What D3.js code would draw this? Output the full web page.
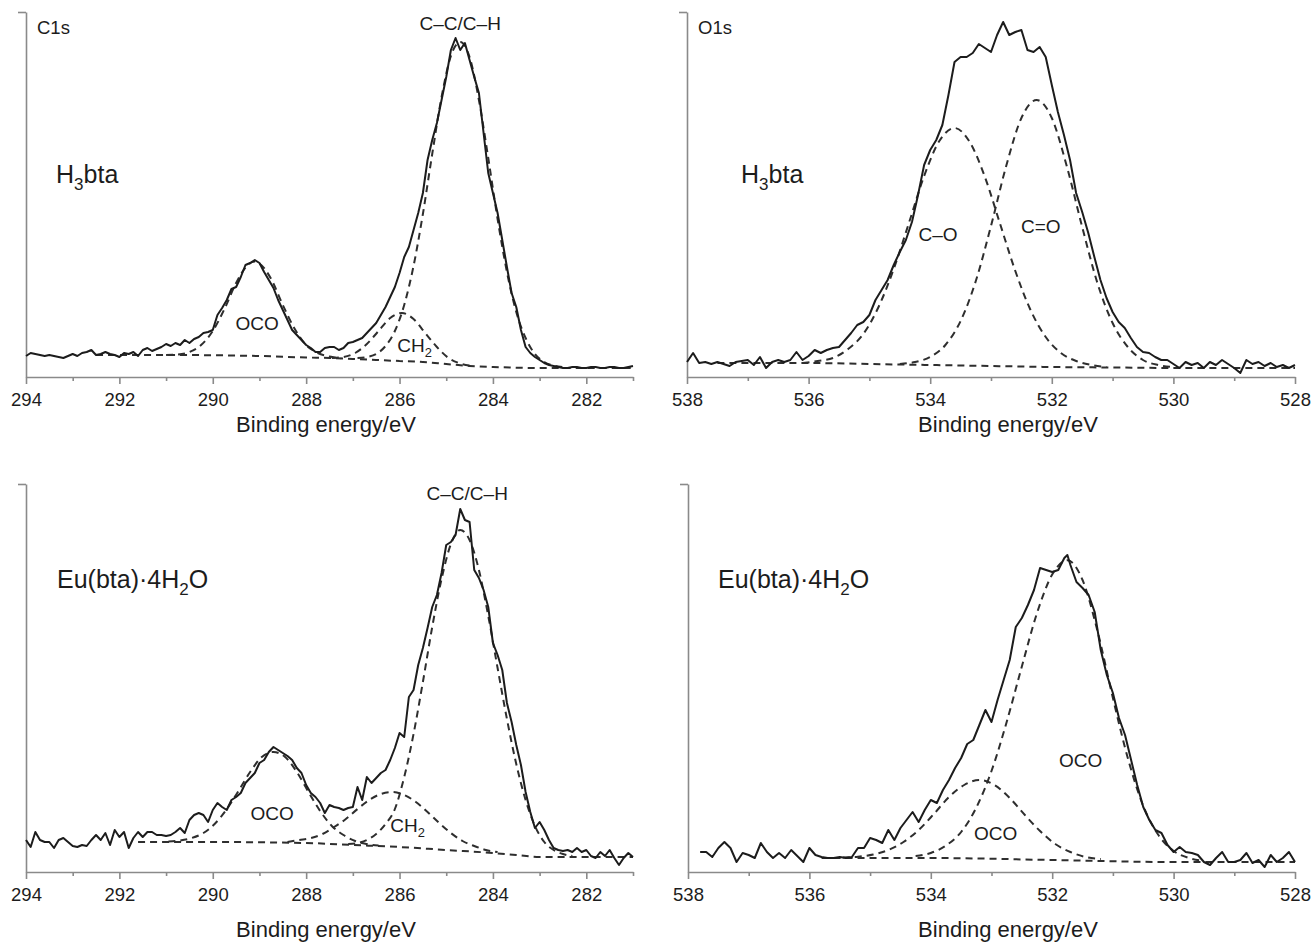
<!DOCTYPE html>
<html>
<head>
<meta charset="utf-8">
<script src="https://cdn.jsdelivr.net/npm/d3@7"></script>
<style>
  html, body { margin: 0; padding: 0; background: #fff; }
  svg { display: block; font-family: "Liberation Sans", Arial, Helvetica, sans-serif; }
</style>
</head>
<body>
<svg id="chart" width="1312" height="943"></svg>
<script>
// ---------------------------------------------------------------
// XPS spectra: [binding energy (eV), intensity (a.u.)]
// ---------------------------------------------------------------

// Axis ticks
const c1sTicks = [294, 292, 290, 288, 286, 284, 282];
const c1sMinorTicks = [293, 291, 289, 287, 285, 283, 281];
const o1sTicks = [538, 536, 534, 532, 530, 528];
const o1sMinorTicks = [537, 535, 533, 531, 529];

// H3bta, C1s region
const h3btaC1s = [
  [294.0,21],[293.9,24],[293.8,23],[293.7,22],[293.6,21],[293.5,22],[293.4,21],[293.3,20],[293.2,19],[293.1,21],
  [293.0,23],[292.9,21],[292.8,24],[292.7,25],[292.6,27],[292.5,22],[292.4,23],[292.3,25],[292.2,23],[292.1,22],
  [292.0,20],[291.9,24],[291.8,23],[291.7,25],[291.6,21],[291.5,27],[291.4,29],[291.3,26],[291.2,28],[291.1,30],
  [291.0,33],[290.9,31],[290.8,34],[290.7,32],[290.6,37],[290.5,34],[290.4,38],[290.3,40],[290.2,44],[290.1,45],
  [290.0,47],[289.9,62],[289.8,69],[289.7,77],[289.6,88],[289.5,90],[289.4,100],[289.3,112],[289.2,114],[289.1,117],
  [289.0,114],[288.9,105],[288.8,97],[288.7,89],[288.6,77],[288.5,67],[288.4,57],[288.3,47],[288.2,42],[288.1,37],
  [288.0,32],[287.9,29],[287.8,25],[287.7,25],[287.6,29],[287.5,30],[287.4,30],[287.3,27],[287.2,29],[287.1,34],
  [287.0,35],[286.9,37],[286.8,39],[286.7,44],[286.6,49],[286.5,54],[286.4,62],[286.3,70],[286.2,80],[286.1,90],
  [286.0,104],[285.9,120],[285.8,130],[285.7,147],[285.6,164],[285.5,184],[285.4,217],[285.3,237],[285.2,254],[285.1,277],
  [285.0,300],[284.9,327],[284.8,339],[284.7,327],[284.6,334],[284.5,317],[284.4,300],[284.3,284],[284.2,244],[284.1,204],
  [284.0,184],[283.9,164],[283.8,137],[283.7,110],[283.6,84],[283.5,70],[283.4,47],[283.3,30],[283.2,24],[283.1,20],
  [283.0,17],[282.9,14],[282.8,12],[282.7,11],[282.6,10],[282.5,9],[282.4,9],[282.3,10],[282.2,10],[282.1,9],
  [282.0,9],[281.9,10],[281.8,10],[281.7,9],[281.6,9],[281.5,10],[281.4,10],[281.3,9],[281.2,9],[281.1,10],[281.0,11]
];
const h3btaC1sBackground = [
  [292.5,22],[291.0,22],[289.0,21],[288.0,19.5],[287.5,19],[287.0,18],[286.5,17],[286.0,16],
  [285.5,15],[285.0,13],[284.5,11],[284.0,10],[283.0,9],[281.0,9]
];
const h3btaC1sOCO = [
  [291.0,22],[290.75,22.5],[290.5,25],[290.25,32],[290.0,46],[289.75,68],[289.5,94],[289.25,112],[289.1,115.5],
  [289.0,113.5],[288.75,98],[288.5,72],[288.25,48.5],[288.0,32],[287.75,24],[287.5,20.5],[287.25,18.6]
];
const h3btaC1sCC = [
  [286.9,19],[286.7,20],[286.5,23],[286.3,31],[286.1,46],[285.9,72],[285.7,111],[285.5,163],[285.3,223],[285.1,280],
  [284.9,321],[284.7,335],[284.5,320],[284.3,277],[284.1,219],[283.9,158],[283.7,105],[283.5,65],[283.3,39],[283.1,23],
  [282.9,15],[282.7,11.5],[282.5,10]
];
const h3btaC1sCH2 = [
  [287.45,19],[287.2,20],[286.95,24],[286.7,33],[286.45,46],[286.2,59],[285.95,64],[285.7,58],[285.45,44],
  [285.2,30],[284.95,19],[284.7,13.5],[284.45,11.3]
];

// H3bta, O1s region
const h3btaO1s = [
  [538.0,15],[537.9,24],[537.8,14],[537.7,15],[537.6,13],[537.5,15],[537.4,13],[537.3,11],[537.2,15],[537.1,16],
  [537.0,17],[536.9,12],[536.8,20],[536.7,9],[536.6,15],[536.5,17],[536.4,15],[536.3,17],[536.2,25],[536.1,17],
  [536.0,21],[535.9,27],[535.8,24],[535.7,27],[535.6,29],[535.5,30],[535.4,37],[535.3,44],[535.2,52],[535.1,55],
  [535.0,62],[534.9,77],[534.8,87],[534.7,97],[534.6,112],[534.5,125],[534.4,137],[534.3,155],[534.2,182],[534.1,212],
  [534.0,227],[533.9,237],[533.8,252],[533.7,282],[533.6,315],[533.5,320],[533.4,320],[533.3,324],[533.2,333],[533.1,329],
  [533.0,325],[532.9,342],[532.8,355],[532.7,342],[532.6,345],[532.5,347],[532.4,327],[532.3,325],[532.2,330],[532.1,320],
  [532.0,292],[531.9,265],[531.8,242],[531.7,217],[531.6,184],[531.5,165],[531.4,144],[531.3,120],[531.2,97],[531.1,79],
  [531.0,65],[530.9,55],[530.8,49],[530.7,39],[530.6,30],[530.5,25],[530.4,24],[530.3,20],[530.2,17],[530.1,17],
  [530.0,13],[529.9,9],[529.8,15],[529.7,12],[529.6,14],[529.5,9],[529.4,15],[529.3,12],[529.2,17],[529.1,13],
  [529.0,9],[528.9,4],[528.8,17],[528.7,13],[528.6,15],[528.5,11],[528.4,14],[528.3,10],[528.2,12],[528.1,9],[528.0,12]
];
const h3btaO1sBackground = [
  [537.5,14],[536.0,14],[535.0,13],[534.0,12],[533.0,11],[532.0,10],[531.0,9.5],[530.0,9],[528.0,9]
];
const h3btaO1sCO = [
  [536.1,14],[535.85,16],[535.6,19],[535.35,28],[535.1,43],[534.85,70],[534.6,108],[534.35,154],[534.1,201],
  [533.85,236],[533.6,249],[533.35,235],[533.1,200],[532.85,153],[532.6,106],[532.35,67],[532.1,40],[531.85,24],
  [531.6,16],[531.35,12],[531.1,10]
];
const h3btaO1sCdO = [
  [534.5,13],[534.25,15],[534.0,20],[533.75,32],[533.5,56],[533.25,96],[533.0,151],[532.75,211],[532.5,259],
  [532.25,277],[532.0,259],[531.75,210],[531.5,150],[531.25,94],[531.0,54],[530.75,30],[530.5,17],[530.25,12],[530.0,10]
];

// Eu(bta)·4H2O, C1s region
const euC1s = [
  [294.0,32],[293.9,25],[293.8,40],[293.7,32],[293.6,30],[293.5,30],[293.4,24],[293.3,32],[293.2,34],[293.1,30],
  [293.0,26],[292.9,25],[292.8,27],[292.7,26],[292.6,32],[292.5,37],[292.4,32],[292.3,39],[292.2,27],[292.1,42],
  [292.0,35],[291.9,40],[291.8,24],[291.7,34],[291.6,40],[291.5,35],[291.4,40],[291.3,40],[291.2,37],[291.1,37],
  [291.0,36],[290.9,37],[290.8,40],[290.7,44],[290.6,39],[290.5,52],[290.4,57],[290.3,59],[290.2,57],[290.1,50],
  [290.0,62],[289.9,69],[289.8,65],[289.7,62],[289.6,72],[289.5,75],[289.4,79],[289.3,89],[289.2,94],[289.1,99],
  [289.0,109],[288.9,112],[288.8,120],[288.7,125],[288.6,122],[288.5,119],[288.4,116],[288.3,112],[288.2,104],[288.1,99],
  [288.0,87],[287.9,79],[287.8,75],[287.7,69],[287.6,59],[287.5,67],[287.4,65],[287.3,64],[287.2,62],[287.1,64],
  [287.0,65],[286.9,85],[286.8,72],[286.7,95],[286.6,89],[286.5,94],[286.4,99],[286.3,102],[286.2,112],[286.1,124],
  [286.0,139],[285.9,135],[285.8,175],[285.7,182],[285.6,207],[285.5,224],[285.4,244],[285.3,265],[285.2,277],[285.1,299],
  [285.0,327],[284.9,330],[284.8,337],[284.7,363],[284.6,352],[284.5,350],[284.4,302],[284.3,294],[284.2,282],[284.1,265],
  [284.0,229],[283.9,217],[283.8,202],[283.7,169],[283.6,150],[283.5,127],[283.4,107],[283.3,80],[283.2,60],[283.1,44],
  [283.0,50],[282.9,42],[282.8,32],[282.7,24],[282.6,22],[282.5,21],[282.4,22],[282.3,20],[282.2,24],[282.1,20],
  [282.0,22],[281.9,16],[281.8,14],[281.7,20],[281.6,16],[281.5,22],[281.4,14],[281.3,7],[281.2,14],[281.1,19],[281.0,15]
];
const euC1sBackground = [
  [291.6,30],[290.0,30],[288.0,29],[287.0,27],[286.0,25],[285.0,22],[284.0,19],[283.5,17],[283.0,15],[281.0,15]
];
const euC1sOCO = [
  [290.95,30.5],[290.7,31.5],[290.45,34],[290.2,39],[289.95,48.5],[289.7,63],[289.45,81],[289.2,100],[288.95,115],
  [288.7,120],[288.45,115],[288.2,100],[287.95,80],[287.7,61],[287.45,46],[287.2,37],[286.95,31],[286.7,28],[286.45,26.4]
];
const euC1sCH2 = [
  [288.4,30],[288.15,32],[287.9,34],[287.65,38],[287.4,45],[287.15,53],[286.9,63],[286.65,72],[286.4,78],[286.15,80],
  [285.9,77],[285.65,70],[285.4,60],[285.15,49],[284.9,39],[284.65,31],[284.4,26],[284.15,22],[283.9,20]
];
const euC1sCC = [
  [287.1,28],[286.9,29],[286.7,32],[286.5,38],[286.3,48],[286.1,63],[285.9,95],[285.7,138],[285.5,190],[285.3,245],
  [285.1,293],[284.9,328],[284.7,342],[284.5,332],[284.3,302],[284.1,256],[283.9,204],[283.7,153],[283.5,108],[283.3,72],
  [283.1,46],[282.9,30],[282.7,22],[282.5,18],[282.3,16]
];

// Eu(bta)·4H2O, O1s region
const euO1s = [
  [537.8,20],[537.7,20],[537.6,15],[537.5,24],[537.4,30],[537.3,24],[537.2,10],[537.1,19],[537.0,17],[536.9,14],
  [536.8,29],[536.7,20],[536.6,14],[536.5,19],[536.4,14],[536.3,22],[536.2,16],[536.1,10],[536.0,24],[535.9,17],
  [535.8,15],[535.7,14],[535.6,14],[535.5,15],[535.4,14],[535.3,15],[535.2,24],[535.1,24],[535.0,34],[534.9,32],
  [534.8,29],[534.7,42],[534.6,32],[534.5,44],[534.4,52],[534.3,60],[534.2,50],[534.1,62],[534.0,72],[533.9,69],
  [533.8,82],[533.7,92],[533.6,104],[533.5,114],[533.4,128],[533.3,132],[533.2,147],[533.1,162],[533.0,150],[532.9,172],
  [532.8,192],[532.7,212],[532.6,245],[532.5,254],[532.4,267],[532.3,282],[532.2,304],[532.1,302],[532.0,300],[531.9,302],
  [531.8,314],[531.75,317],[531.7,307],[531.6,290],[531.5,284],[531.4,277],[531.3,260],[531.2,222],[531.1,197],[531.0,179],
  [530.9,154],[530.8,137],[530.7,112],[530.6,87],[530.5,65],[530.4,52],[530.3,42],[530.2,39],[530.1,27],[530.0,20],
  [529.9,25],[529.8,20],[529.7,19],[529.6,17],[529.5,10],[529.4,7],[529.3,14],[529.2,20],[529.1,10],[529.0,10],
  [528.9,12],[528.8,19],[528.7,9],[528.6,12],[528.5,5],[528.4,17],[528.3,10],[528.2,14],[528.1,20],[528.0,10]
];
const euO1sBackground = [
  [535.8,14],[534.0,14],[532.0,12],[530.0,10],[528.0,10]
];
const euO1sOCOHigh = [
  [535.45,14.5],[535.2,15.3],[534.95,17.5],[534.7,22],[534.45,30],[534.2,42],[533.95,58],[533.7,75],[533.45,87],
  [533.2,92],[532.95,87],[532.7,74],[532.45,57],[532.2,41],[531.95,28],[531.7,20],[531.45,15],[531.2,13]
];
const euO1sOCOLow = [
  [534.25,16],[534.0,19],[533.75,26.5],[533.5,40],[533.25,64.5],[533.0,101],[532.75,150],[532.5,205.5],[532.25,259],
  [532.0,297.5],[531.75,311.7],[531.5,292],[531.25,240],[531.0,174],[530.75,113],[530.5,66],[530.25,37],[530.0,21],
  [529.75,14],[529.5,11]
];

// ---------------------------------------------------------------
// Panel layout
// ---------------------------------------------------------------
const SUB = s => ({ t: s, sub: true });
const euName = ["Eu(bta)·4H", SUB("2"), "O"];
const h3btaName = ["H", SUB("3"), "bta"];

const panels = [
  {
    spectrum: h3btaC1s, background: h3btaC1sBackground,
    components: [h3btaC1sOCO, h3btaC1sCH2, h3btaC1sCC],
    domain: [294, 281], major: c1sTicks, minor: c1sMinorTicks,
    left: 26, right: 633, top: 12, bottom: 377, yMax: 365,
    core: "C1s", sample: h3btaName, sampleX: 56, sampleY: 183,
    titleX: 326, titleY: 432,
    peaks: [
      { text: ["C–C/C–H"], e: 284.7, v: 347, anchor: "middle" },
      { text: ["OCO"], e: 289.05, v: 47, anchor: "middle" },
      { text: ["CH", SUB("2")], e: 286.05, v: 25, anchor: "start" }
    ]
  },
  {
    spectrum: h3btaO1s, background: h3btaO1sBackground,
    components: [h3btaO1sCO, h3btaO1sCdO],
    domain: [538, 528], major: o1sTicks, minor: o1sMinorTicks,
    left: 687, right: 1295, top: 12, bottom: 377, yMax: 365,
    core: "O1s", sample: h3btaName, sampleX: 741, sampleY: 183,
    titleX: 1008, titleY: 432,
    peaks: [
      { text: ["C–O"], e: 533.87, v: 136, anchor: "middle" },
      { text: ["C=O"], e: 532.18, v: 144, anchor: "middle" }
    ]
  },
  {
    spectrum: euC1s, background: euC1sBackground,
    components: [euC1sOCO, euC1sCH2, euC1sCC],
    domain: [294, 281], major: c1sTicks, minor: c1sMinorTicks,
    left: 26, right: 633, top: 484, bottom: 872, yMax: 388,
    core: null, sample: euName, sampleX: 57, sampleY: 588,
    titleX: 326, titleY: 937,
    peaks: [
      { text: ["C–C/C–H"], e: 284.55, v: 372, anchor: "middle" },
      { text: ["OCO"], e: 288.73, v: 52, anchor: "middle" },
      { text: ["CH", SUB("2")], e: 286.2, v: 40, anchor: "start" }
    ]
  },
  {
    spectrum: euO1s, background: euO1sBackground,
    components: [euO1sOCOHigh, euO1sOCOLow],
    domain: [538, 528], major: o1sTicks, minor: o1sMinorTicks,
    left: 688, right: 1295, top: 484, bottom: 872, yMax: 388,
    core: null, sample: euName, sampleX: 718, sampleY: 588,
    titleX: 1008, titleY: 937,
    peaks: [
      { text: ["OCO"], e: 531.53, v: 105, anchor: "middle" },
      { text: ["OCO"], e: 532.93, v: 32, anchor: "middle" }
    ]
  }
];

const AXIS_COLOR = "#8a8a8a";
const INK = "#1c1c1c";
const svg = d3.select("#chart");

// text with optional subscript segments
function richText(parent, x, y, segments, size, anchor) {
  const t = parent.append("text")
    .attr("x", x).attr("y", y)
    .attr("font-size", size)
    .attr("text-anchor", anchor || "start")
    .attr("fill", INK);
  let shifted = 0;
  segments.forEach(seg => {
    const isSub = typeof seg === "object" && seg.sub;
    const str = typeof seg === "object" ? seg.t : seg;
    const target = isSub ? Math.round(size * 0.26) : 0;
    t.append("tspan")
      .attr("dy", target - shifted)
      .attr("font-size", isSub ? size * 0.68 : size)
      .text(str);
    shifted = target;
  });
  return t;
}

panels.forEach(p => {
  const x = d3.scaleLinear().domain(p.domain).range([p.left, p.right]);
  const y = d3.scaleLinear().domain([0, p.yMax]).range([p.bottom, p.top]);
  const g = svg.append("g");

  // x axis: minor then major ticks
  const gMinor = g.append("g").attr("transform", `translate(0,${p.bottom})`)
    .call(d3.axisBottom(x).tickValues(p.minor).tickSize(4).tickSizeOuter(0).tickFormat(""));
  gMinor.select(".domain").remove();
  const gMajor = g.append("g").attr("transform", `translate(0,${p.bottom})`)
    .call(d3.axisBottom(x).tickValues(p.major).tickSize(7).tickSizeOuter(0)
      .tickPadding(9).tickFormat(d3.format("d")));
  [gMinor, gMajor].forEach(a => {
    a.selectAll("line").attr("stroke", AXIS_COLOR).attr("stroke-width", 1.6);
    a.select(".domain").attr("stroke", AXIS_COLOR).attr("stroke-width", 1.6);
    a.selectAll("text").attr("font-size", 18.5).attr("fill", INK)
      .attr("font-family", '"Liberation Sans", Arial, Helvetica, sans-serif');
  });

  // y axis: plain line with a short tick at the top
  const gy = g.append("g").attr("transform", `translate(${p.left},0)`)
    .call(d3.axisLeft(y).tickValues([p.yMax]).tickSize(8).tickSizeOuter(0).tickFormat(""));
  gy.selectAll("line").attr("stroke", AXIS_COLOR).attr("stroke-width", 1.6);
  gy.select(".domain").attr("stroke", AXIS_COLOR).attr("stroke-width", 1.6);

  // fitted components and background (dashed)
  const smooth = d3.line().x(d => x(d[0])).y(d => y(d[1])).curve(d3.curveMonotoneX);
  [p.background, ...p.components].forEach(c => {
    g.append("path").datum(c)
      .attr("d", smooth)
      .attr("fill", "none")
      .attr("stroke", "#2e2e2e")
      .attr("stroke-width", 2)
      .attr("stroke-dasharray", "7,5");
  });

  // measured spectrum (solid)
  const raw = d3.line().x(d => x(d[0])).y(d => y(d[1]));
  g.append("path").datum(p.spectrum)
    .attr("d", raw)
    .attr("fill", "none")
    .attr("stroke", INK)
    .attr("stroke-width", 2)
    .attr("stroke-linejoin", "round");

  // labels
  if (p.core) richText(g, p.left + 11, p.top + 22, [p.core], 18.5, "start");
  richText(g, p.sampleX, p.sampleY, p.sample, 25, "start");
  p.peaks.forEach(pk => richText(g, x(pk.e), y(pk.v), pk.text, 19, pk.anchor));

  g.append("text")
    .attr("x", p.titleX).attr("y", p.titleY)
    .attr("text-anchor", "middle")
    .attr("font-size", 22)
    .attr("fill", INK)
    .text("Binding energy/eV");
});
</script>
</body>
</html>
